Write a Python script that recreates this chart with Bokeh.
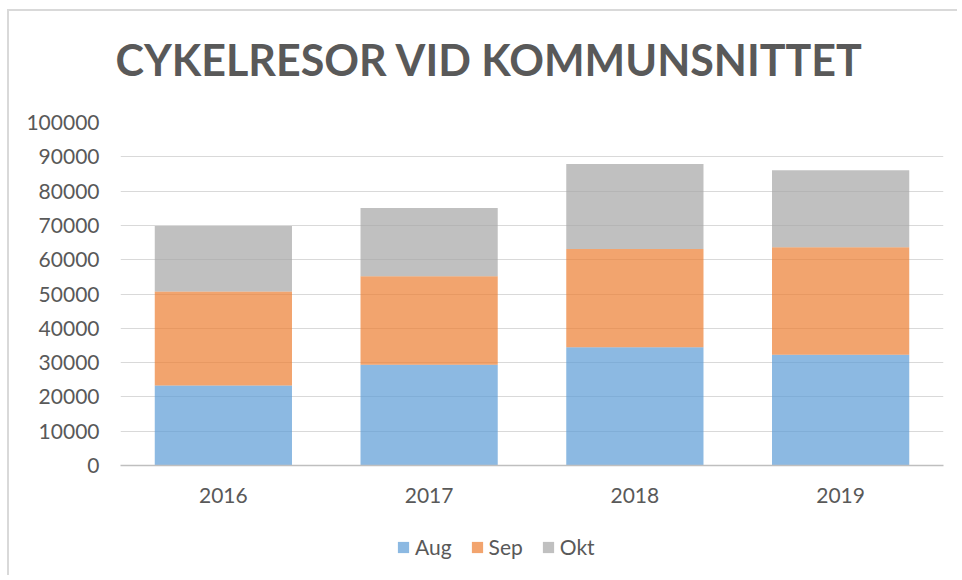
from bokeh.plotting import figure
from bokeh.layouts import column
from bokeh.models import (FixedTicker, BasicTickFormatter, Legend, LegendItem, Title, Range1d)
from bokeh.embed import file_html
from bokeh.resources import INLINE

years = ["2016", "2017", "2018", "2019"]
months = ["Aug", "Sep", "Okt"]
aug = [23300, 29400, 34500, 32300]
sep = [27400, 25800, 28600, 31300]
okt = [19100, 19900, 24800, 22500]
y_ticks = list(range(0, 100001, 10000))
colors = ["#5B9BD5", "#ED7D31", "#A5A5A5"]

FONT = "Lato"
TXT = "#595959"
BORDER = "2px solid #d9d9d9"

p = figure(x_range=years, y_range=(0, 100000), frame_width=821, frame_height=341,
           output_backend="svg", toolbar_location=None,
           min_border_left=111, min_border_right=16,
           min_border_top=20, min_border_bottom=57,
           styles={"border-top": BORDER, "border-left": BORDER})
p.title = None

spacer = Title(text=" ", text_font=FONT, text_font_size="1px", standoff=15)
p.add_layout(spacer, "above")
t = Title(text="CYKELRESOR VID KOMMUNSNITTET", text_font=FONT, text_font_size="43px",
          text_font_style="bold", text_color=TXT, align="left", offset=-5, standoff=40)
p.add_layout(t, "above")

data = {"years": years, "Aug": aug, "Sep": sep, "Okt": okt}
rs = p.vbar_stack(months, x="years", width=0.667, source=data, color=colors,
                  fill_alpha=0.7, line_alpha=0.0)

p.outline_line_color = None
p.xgrid.grid_line_color = None
p.ygrid.grid_line_color = "#d9d9d9"
p.ygrid.grid_line_width = 1.2

p.yaxis.ticker = FixedTicker(ticks=y_ticks)
p.yaxis.formatter = BasicTickFormatter(use_scientific=False)
for ax in (p.xaxis[0], p.yaxis[0]):
    ax.major_tick_line_color = None
    ax.minor_tick_line_color = None
    ax.major_label_text_font = FONT
    ax.major_label_text_font_size = "21px"
    ax.major_label_text_color = TXT
    ax.major_tick_out = 0
    ax.major_tick_in = 0
p.yaxis.axis_line_color = None
p.yaxis.major_label_standoff = 21
p.xaxis.axis_line_color = "#bfbfbf"
p.xaxis.axis_line_width = 1.5
p.xaxis.major_label_standoff = 22

# legend strip below the chart (its zero-width bars draw nothing but give the swatches)
p2 = figure(x_range=years, y_range=Range1d(-2000000, -1000000), width=948, height=55,
            output_backend="svg", toolbar_location=None,
            min_border=0, min_border_left=0, min_border_right=0,
            min_border_top=0, min_border_bottom=0,
            styles={"border-left": BORDER})
p2.title = None
p2.axis.visible = False
p2.grid.grid_line_color = None
p2.outline_line_color = None
sw = p2.vbar_stack(months, x="years", width=0, source=data, color=colors,
                   fill_alpha=0.7, line_alpha=0.0)
legend = Legend(items=[LegendItem(label=m, renderers=[r]) for m, r in zip(months, sw)],
                orientation="horizontal", location=(276, 16),
                label_text_font=FONT, label_text_font_size="21px", label_text_color=TXT,
                glyph_width=14, glyph_height=14, label_standoff=5, spacing=18,
                border_line_color=None, background_fill_alpha=0, padding=6, margin=0)
p2.add_layout(legend, "center")

layout = column(p, p2, spacing=0, styles={"margin-left": "7px", "margin-top": "9px"})

open("out.html", "w").write(file_html(layout, INLINE))
